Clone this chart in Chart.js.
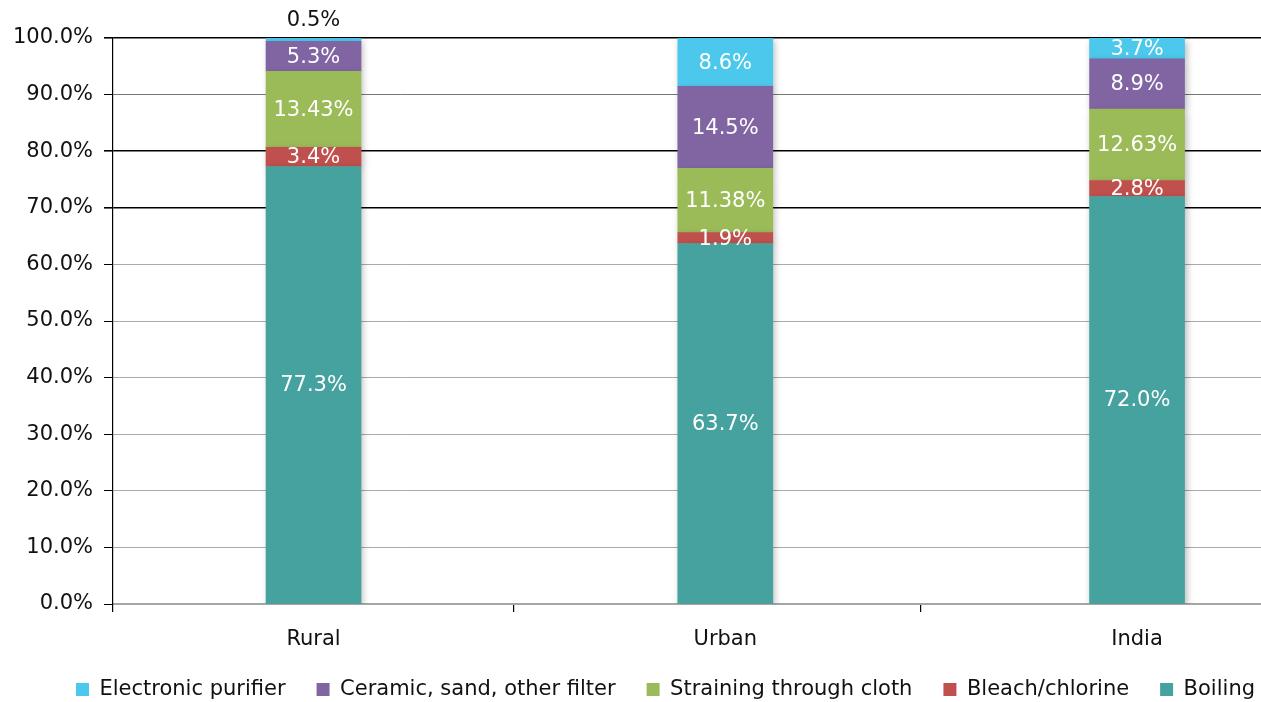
<!DOCTYPE html>
<html>
<head>
<meta charset="utf-8">
<script src="https://cdn.jsdelivr.net/npm/chart.js@4/dist/chart.umd.min.js"></script>
<style>
html,body{margin:0;padding:0;background:#fff;overflow:hidden;}
#wrap{width:1261px;height:702px;position:relative;overflow:hidden;}
</style>
</head>
<body>
<div id="wrap"><canvas id="c" width="1261" height="710"></canvas></div>
<script>
// ---- data ----
const categories = ['Rural', 'Urban', 'India'];
const seriesNames = ['Boiling', 'Bleach/chlorine', 'Straining through cloth', 'Ceramic, sand, other filter', 'Electronic purifier'];
const boiling    = [77.3, 63.7, 72.0];
const bleach     = [3.4, 1.9, 2.8];
const straining  = [13.43, 11.38, 12.63];
const ceramic    = [5.3, 14.5, 8.9];
const electronic = [0.5, 8.6, 3.7];
const yTicks = [0, 10, 20, 30, 40, 50, 60, 70, 80, 90, 100];
const xDividers = [0.485, 1.475];

const seriesValues = [boiling, bleach, straining, ceramic, electronic];
const seriesColors = ['#45A29E', '#C0504D', '#9BBB59', '#8165A2', '#4BC8EB'];

const FONT = 'DejaVu Sans';
const X_MIN = -0.487, X_MAX = 2.301;

function fmt(v){
  return (Math.abs(v*10 - Math.round(v*10)) < 1e-6 ? v.toFixed(1) : v.toFixed(2)) + '%';
}

const datasets = seriesNames.map((name, i) => ({
  label: name,
  data: categories.map((c, j) => ({x: j, y: seriesValues[i][j]})),
  backgroundColor: seriesColors[i],
  borderWidth: 0,
  barThickness: 95
}));

const fxPlugin = {
  id: 'fx',
  afterLayout(chart){
    // shift legend block so it is centred like the original
    const lg = chart.legend;
    if (lg) { lg.left = 35; lg.right = chart.width + 35; }
  },
  beforeDatasetsDraw(chart){
    const ctx = chart.ctx;
    ctx.save();
    ctx.shadowColor = 'rgba(0,0,0,0.28)';
    ctx.shadowBlur = 7;
    ctx.shadowOffsetX = 2;
    ctx.shadowOffsetY = 3;
  },
  afterDatasetsDraw(chart){
    const ctx = chart.ctx;
    ctx.restore();
    ctx.save();
    ctx.font = '21px "' + FONT + '"';
    ctx.textAlign = 'center';
    ctx.textBaseline = 'middle';
    chart.data.datasets.forEach((ds, di) => {
      const meta = chart.getDatasetMeta(di);
      meta.data.forEach((el, j) => {
        const v = ds.data[j].y;
        const top = Math.max(el.y, chart.chartArea.top);
        const h = el.base - top;
        if (h < 8) {
          ctx.fillStyle = '#111';
          ctx.fillText(fmt(v), el.x, top - 18);
        } else {
          ctx.fillStyle = '#ffffff';
          ctx.fillText(fmt(v), el.x, (top + el.base) / 2 + 1);
        }
      });
    });
    ctx.restore();
  }
};

new Chart(document.getElementById('c'), {
  type: 'bar',
  data: { datasets },
  options: {
    responsive: false,
    animation: false,
    layout: { padding: { left: 0, right: 0, top: 38, bottom: 0 } },
    plugins: {
      legend: {
        position: 'bottom',
        reverse: true,
        labels: {
          boxWidth: 13, boxHeight: 13, padding: 31,
          color: '#111',
          font: { family: FONT, size: 21 }
        }
      },
      tooltip: { enabled: false }
    },
    scales: {
      x: {
        type: 'linear',
        stacked: true,
        offset: false,
        min: X_MIN, max: X_MAX,
        afterBuildTicks(scale){
          scale.ticks = [{value: X_MIN}].concat(categories.map((c, i) => ({value: i})), xDividers.map(v => ({value: v})));
          scale.ticks.sort((a, b) => a.value - b.value);
        },
        afterFit(scale){ scale.height = 44; },
        ticks: {
          autoSkip: false, maxRotation: 0, minRotation: 0,
          padding: 15,
          color: '#111',
          font: { family: FONT, size: 21 },
          callback(v){ return Number.isInteger(v) ? categories[v] : ''; }
        },
        grid: {
          offset: false,
          drawOnChartArea: false,
          drawTicks: true,
          tickLength: 8,
          lineWidth: 1.2,
          color(ctx){ return (ctx.tick && Number.isInteger(ctx.tick.value)) ? 'rgba(0,0,0,0)' : '#000'; }
        },
        border: { display: true, color: '#a6a6a6', width: 2 }
      },
      y: {
        stacked: true,
        min: 0, max: 100,
        afterFit(scale){ scale.width = 113; },
        afterBuildTicks(scale){ scale.ticks = yTicks.map(v => ({value: v})); },
        ticks: {
          padding: 11,
          color: '#111',
          font: { family: FONT, size: 21 },
          callback(v){ return v.toFixed(1) + '%'; }
        },
        grid: {
          drawTicks: true,
          tickLength: 9,
          tickColor: '#000',
          lineWidth(ctx){ const v = ctx.tick && ctx.tick.value; return (v === 100 || v === 80 || v === 70) ? 1.6 : 1; },
          color(ctx){
            const v = ctx.tick && ctx.tick.value;
            if (v === 100 || v === 80 || v === 70) return '#000';
            if (v === 90) return '#777';
            return '#aaaaaa';
          }
        },
        border: { display: true, color: '#000', width: 1.2 }
      }
    }
  },
  plugins: [fxPlugin]
});
</script>
</body>
</html>
